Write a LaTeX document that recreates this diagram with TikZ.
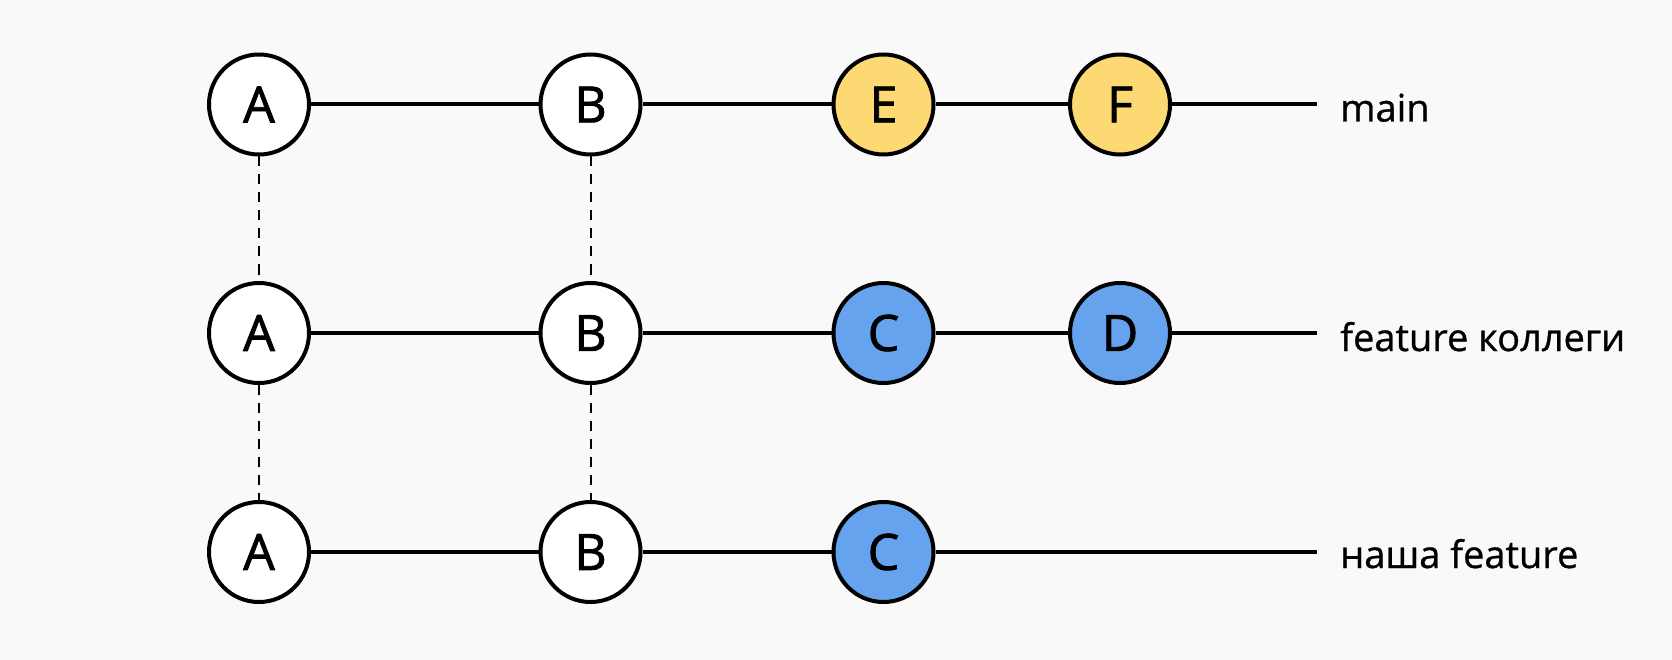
\documentclass[tikz,border=0pt]{standalone}
\usepackage{fontspec}
\setmainfont{Open Sans}
\newfontfamily\circlefont[FakeBold=1.6]{Open Sans}
\newfontfamily\labelfont[FakeBold=0.8]{Open Sans}
\definecolor{bg}{HTML}{F9F9F9}
\definecolor{cyellow}{HTML}{FCD973}
\definecolor{cblue}{HTML}{65A3EE}
\tikzset{
  commit/.style={circle, draw=black, line width=4pt, minimum size=100pt, inner sep=0pt, fill=white, font=\circlefont\fontsize{50}{60}\selectfont},
  yel/.style={commit, fill=cyellow},
  blu/.style={commit, fill=cblue},
  link/.style={line width=4pt, draw=black},
  same/.style={line width=2pt, draw=black, dash pattern=on 10pt off 8pt},
  branch/.style={anchor=base west, inner sep=0pt, font=\labelfont\fontsize{38}{46}\selectfont}
}
\begin{document}
\begin{tikzpicture}[x=1pt,y=-1pt]
\fill[bg] (0,0) rectangle (1672,660);
\useasboundingbox (0,0) rectangle (1672,660);
% row 1
\node[commit] (a1) at (259,104.5) {A};
\node[commit] (b1) at (590.5,104.5) {B};
\node[yel] (e1) at (883.5,104.5) {E};
\node[yel] (f1) at (1120,104.5) {F};
\coordinate (end1) at (1317,104.5);
\node[branch] (l1) at (1340,121.5) {main};
% row 2
\node[commit] (a2) at (259,333) {A};
\node[commit] (b2) at (590.5,333) {B};
\node[blu] (c2) at (883.5,333) {C};
\node[blu] (d2) at (1120,333) {D};
\coordinate (end2) at (1317,333);
\node[branch] (l2) at (1340,351) {feature коллеги};
% row 3
\node[commit] (a3) at (259,552) {A};
\node[commit] (b3) at (590.5,552) {B};
\node[blu] (c3) at (883.5,552) {C};
\coordinate (end3) at (1317,552);
\node[branch] (l3) at (1340,568) {наша feature};
% links
\draw[link] (a1) -- (b1) -- (e1) -- (f1);
\draw[link] (f1) -- (end1);
\draw[link] (a2) -- (b2) -- (c2) -- (d2);
\draw[link] (d2) -- (end2);
\draw[link] (a3) -- (b3) -- (c3);
\draw[link] (c3) -- (end3);
% dashed
\draw[same] (a1) -- (a2);
\draw[same] (a2) -- (a3);
\draw[same] (b1) -- (b2);
\draw[same] (b2) -- (b3);
\end{tikzpicture}
\end{document}
